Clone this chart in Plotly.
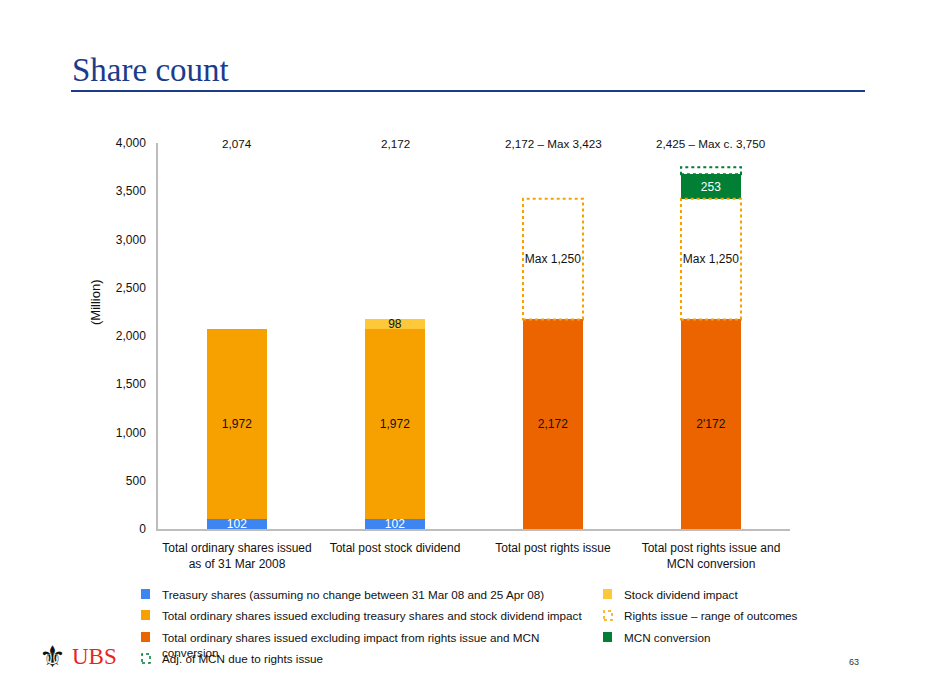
import plotly.graph_objects as go

categories = ["Total ordinary shares issued<br>as of 31 Mar 2008", "Total post stock dividend",
              "Total post rights issue", "Total post rights issue and<br>MCN conversion"]
treasury = [102, 102, None, None]
excl_treasury_div = [1972, 1972, None, None]
stock_dividend = [None, 98, None, None]
excl_rights_mcn = [None, None, 2172, 2172]
rights_issue = [None, None, 1250, 1250]
mcn_conversion = [None, None, None, 253]
mcn_adj = [None, None, None, 75]
excl_rights_labels = ["", "", "2,172", "2'172"]
top_labels = ["2,074", "2,172", "2,172 \u2013 Max 3,423", "2,425 \u2013 Max c. 3,750"]
legend_items = [
    ("Treasury shares (assuming no change between 31 Mar 08 and 25 Apr 08)", "#3D86F2", "solid"),
    ("Stock dividend impact", "#FDC83A", "solid"),
    ("Total ordinary shares issued excluding treasury shares and stock dividend impact", "#F7A100", "solid"),
    ("Rights issue \u2013 range of outcomes", "#F7A100", "dot"),
    ("Total ordinary shares issued excluding impact from rights issue and MCN<br>conversion", "#EB6400", "solid"),
    ("MCN conversion", "#007F35", "solid"),
    ("Adj. of MCN due to rights issue", "#007F35", "dot"),
]

OFF = 8  # page body margin
W, H = 925 - OFF, 694 - OFF
L, R, T, B = 158, 790, 143, 529  # plot area in window pixels
BW = 0.38
FONT = "Liberation Sans, Arial, sans-serif"

def px(x):
    return (x - L) / (R - L)

def py(y):
    return (B - y) / (B - T)

def fmt(v):
    return "" if v is None else f"{v:,}"

fig = go.Figure()

def add_bar(vals, color, texts, tcolor, fill=None):
    fig.add_trace(go.Bar(
        x=categories, y=[0 if v is None else v for v in vals],
        marker=dict(color=fill or color, line=dict(width=0)),
        width=BW, text=texts, textposition="inside", insidetextanchor="middle", textangle=0,
        textfont=dict(color=tcolor, family=FONT, size=12), showlegend=False,
        hoverinfo="skip", cliponaxis=False, constraintext="none"))

add_bar(treasury, "#3D86F2", [fmt(v) for v in treasury], "white")
add_bar(excl_treasury_div, "#F7A100", [fmt(v) for v in excl_treasury_div], "#111")
add_bar(stock_dividend, "#FDC83A", [fmt(v) for v in stock_dividend], "#111")
add_bar(excl_rights_mcn, "#EB6400", excl_rights_labels, "#111")
add_bar(rights_issue, "#F7A100", ["" if v is None else f"Max {v:,}" for v in rights_issue], "#111", fill="rgba(255,255,255,0)")
add_bar(mcn_conversion, "#007F35", [fmt(v) for v in mcn_conversion], "white")
add_bar(mcn_adj, "#007F35", ["" for v in mcn_adj], "white", fill="rgba(255,255,255,0)")

# dotted outlines for range-type segments
for i in range(len(categories)):
    base = sum(v or 0 for v in (treasury[i], excl_treasury_div[i], stock_dividend[i], excl_rights_mcn[i]))
    if rights_issue[i]:
        fig.add_shape(type="rect", xref="x", yref="y", x0=i - BW / 2, x1=i + BW / 2,
                      y0=base, y1=base + rights_issue[i],
                      line=dict(color="#F7A100", width=2, dash="dot"))
    base2 = base + (rights_issue[i] or 0) + (mcn_conversion[i] or 0)
    if mcn_adj[i]:
        fig.add_shape(type="rect", xref="x", yref="y", x0=i - BW / 2, x1=i + BW / 2,
                      y0=base2, y1=base2 + mcn_adj[i],
                      line=dict(color="#007F35", width=2, dash="dot"))

annotations = []
for i, t in enumerate(top_labels):
    annotations.append(dict(x=categories[i], y=4000, xref="x", yref="y", text=t, showarrow=False,
                            yanchor="middle", font=dict(family=FONT, size=11.7, color="#111")))

# title
annotations.append(dict(x=px(70), y=py(70), xref="paper", yref="paper", text="Share count",
                        showarrow=False, xanchor="left", yanchor="middle",
                        font=dict(family="Liberation Serif, Times New Roman, serif", size=33, color="#1B3C8A")))
fig.add_shape(type="line", xref="paper", yref="paper", x0=px(71), x1=px(865), y0=py(91), y1=py(91),
              line=dict(color="#1B3C8A", width=2))

# custom legend
rows = [594, 615, 637, 658]
cols = [(141, 160), (603, 622)]
for k, (label, color, style) in enumerate(legend_items):
    r, c = divmod(k, 2)
    sx, tx = cols[c]
    yc = rows[r]
    if style == "solid":
        fig.add_shape(type="rect", xref="paper", yref="paper", x0=px(sx), x1=px(sx + 9),
                      y0=py(yc + 5), y1=py(yc - 5), fillcolor=color, line=dict(width=0))
    else:
        fig.add_shape(type="rect", xref="paper", yref="paper", x0=px(sx + 1), x1=px(sx + 9),
                      y0=py(yc + 5), y1=py(yc - 4), line=dict(color=color, width=1.5, dash="dot"))
    annotations.append(dict(x=px(tx), y=py(yc - 8), xref="paper", yref="paper", text=label,
                            showarrow=False, xanchor="left", yanchor="top", align="left",
                            font=dict(family=FONT, size=11.7, color="#111")))

# y axis title
annotations.append(dict(x=px(95), y=py(302), xref="paper", yref="paper", text="(Million)",
                        showarrow=False, textangle=-90, xanchor="center", yanchor="middle",
                        font=dict(family=FONT, size=13, color="#111")))
# logo and page number
annotations.append(dict(x=px(37), y=py(656), xref="paper", yref="paper", text="\u269c",
                        showarrow=False, xanchor="left", yanchor="middle",
                        font=dict(family="DejaVu Sans", size=30, color="#111")))
annotations.append(dict(x=px(70), y=py(656), xref="paper", yref="paper", text="UBS",
                        showarrow=False, xanchor="left", yanchor="middle",
                        font=dict(family="Liberation Serif, Times New Roman, serif", size=23, color="#E8231E")))
annotations.append(dict(x=px(861), y=py(662), xref="paper", yref="paper", text="63",
                        showarrow=False, xanchor="right", yanchor="middle",
                        font=dict(family=FONT, size=9, color="#333")))

fig.update_layout(
    width=W, height=H, barmode="stack", bargap=0.62,
    margin=dict(l=L - OFF, r=925 - R, t=T - OFF, b=694 - B, autoexpand=False),
    paper_bgcolor="white", plot_bgcolor="white",
    uniformtext=dict(minsize=12, mode="show"),
    annotations=annotations,
    xaxis=dict(showline=True, linecolor="#BDBDBD", linewidth=1.5, showgrid=False, ticks="",
               tickfont=dict(family=FONT, size=12, color="#111"), ticklabelstandoff=7),
    yaxis=dict(range=[0, 4000], dtick=500, tickformat=",", showline=True, linecolor="#BDBDBD",
               linewidth=1.5, showgrid=False, zeroline=False, ticks="",
               tickfont=dict(family=FONT, size=12, color="#111"), ticklabelstandoff=8),
)

fig.write_html("out.html")
